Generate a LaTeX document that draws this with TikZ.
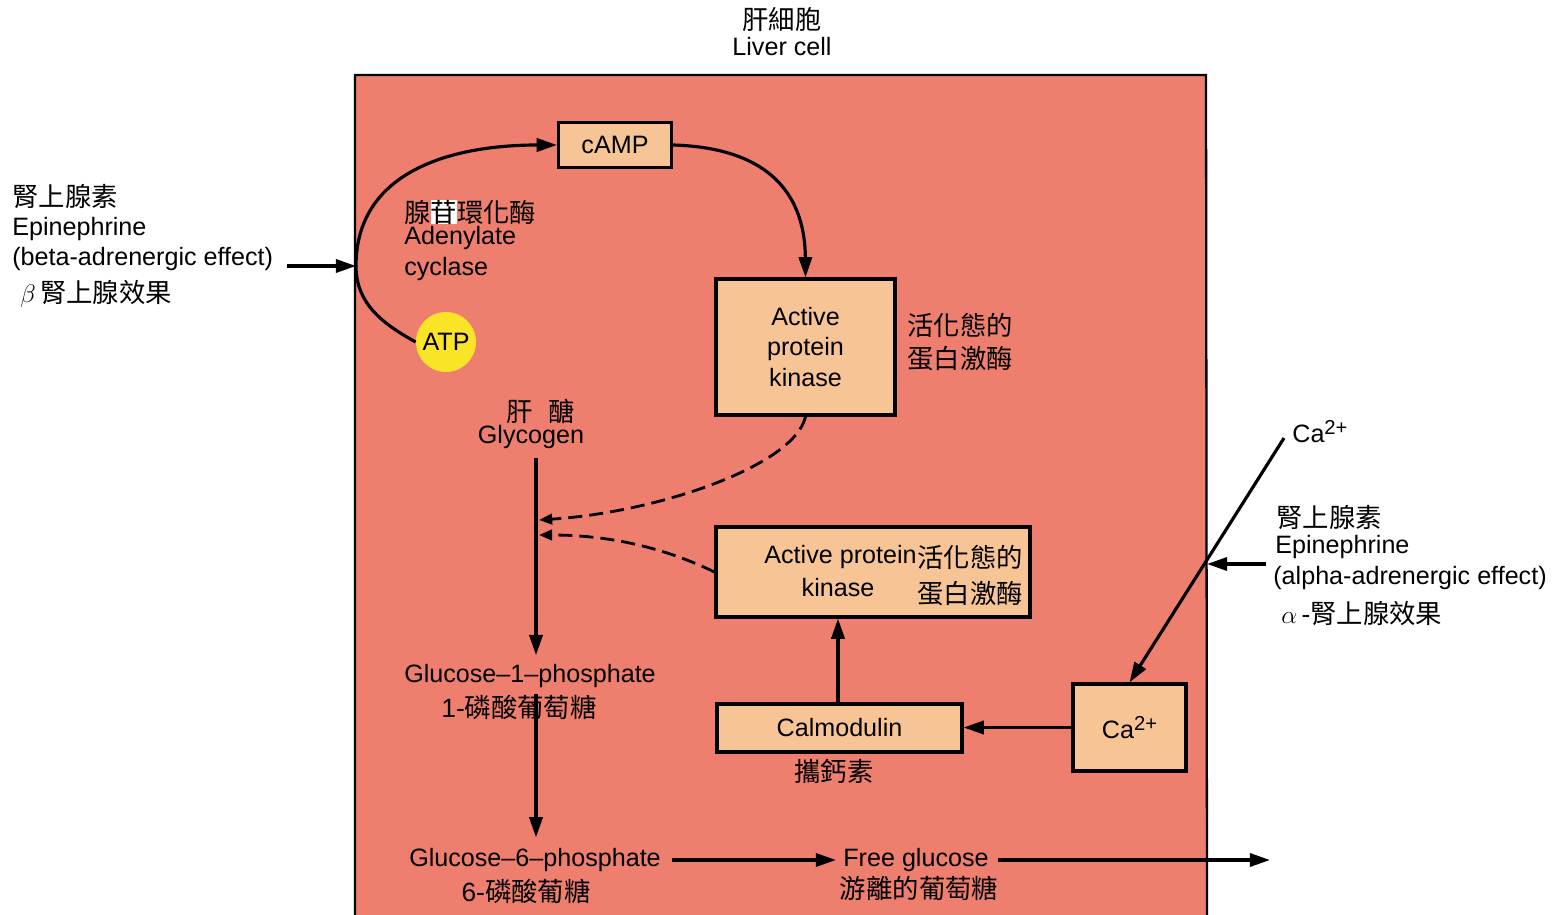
\documentclass[tikz,border=0pt]{standalone}
\usepackage{fontspec}
\setmainfont{Liberation Sans}
\newfontfamily\cjk{Noto Sans CJK TC}
\usetikzlibrary{arrows.meta}
\definecolor{cellc}{RGB}{238,127,111}
\definecolor{boxc}{RGB}{247,196,150}
\definecolor{atpc}{RGB}{250,228,40}
\newcommand\sups[1]{\raisebox{0.6ex}{\fontsize{11.5}{12}\selectfont #1}}
\begin{document}
\begin{tikzpicture}[x=0.2mm,y=-0.2mm,
  lat/.style={font=\fontsize{14.3}{17}\selectfont, inner sep=0pt},
  zh/.style={font=\fontsize{15}{18}\selectfont\cjk, inner sep=0pt},
  box/.style={draw, line width=1.8pt, fill=boxc, inner sep=0pt, font=\fontsize{14.3}{17.4}\selectfont},
  arr/.style={line width=1.8pt, -{Triangle[length=11.5pt,width=7.5pt]}},
  dsh/.style={line width=1.6pt, dash pattern=on 8pt off 4pt, -{Triangle[length=7.5pt,width=6pt]}}
]
\useasboundingbox (0,0) rectangle (1564,915);
\fill[white] (0,0) rectangle (1564,915);
\fill[cellc] (355,75) rectangle (1207,915);
\draw[line width=1.3pt] (355,915) -- (355,75) -- (1206,75) -- (1207,915);

% title
\node[zh] (t1) at (782,20) {肝細胞};
\node[lat] (t2) at (782,47) {Liver cell};

% left labels
\node[zh, anchor=west] (l1) at (12,197) {腎上腺素};
\node[lat, anchor=west] (l2) at (12,229) {Epinephrine};
\node[lat, anchor=west] (l3) at (12,259) {(beta-adrenergic effect)};
\node[zh, anchor=west] (l4) at (20,294) {$\beta$\,腎上腺效果};

% right labels
\node[lat, anchor=west] (calbl) at (1292,432) {Ca\sups{2+}};
\node[zh, anchor=west] (r1) at (1276,518) {腎上腺素};
\node[lat, anchor=west] (r2) at (1275,547) {Epinephrine};
\node[lat, anchor=west] (r3) at (1273,578) {(alpha-adrenergic effect)};
\node[zh, anchor=west] (r4) at (1281,614) {$\alpha$\,{\rmfamily -}腎上腺效果};

% upper cycle
\node[box, minimum width=22.6mm, minimum height=9mm] (camp) at (615,145) {cAMP};
\node[circle, fill=atpc, minimum size=12mm, inner sep=0pt, font=\fontsize{14.3}{17}\selectfont] (atp) at (446,342) {ATP};
\node[zh, anchor=west] (ac1) at (404,212) {腺{\fboxsep=0pt\colorbox{white}{苷}}環化酶};
\node[lat, anchor=west] (ac2) at (404,238) {Adenylate};
\node[lat, anchor=west] (ac3) at (404,269) {cyclase};
\node[box, minimum width=35.8mm, minimum height=27.2mm, align=center] (k1) at (805.5,347) {Active\\protein\\kinase};
\node[zh, anchor=west, align=left, font=\fontsize{15}{18.8}\selectfont\cjk] (k1zh) at (907,342) {活化態的\\蛋白激酶};

% glycogen chain
\node[zh] (glyzh) at (541,411) {肝\hspace{0.6em}醣};
\node[lat] (gly) at (531,437) {Glycogen};
\node[lat] (g1p) at (530,676) {Glucose–1–phosphate};
\node[zh] (g1pzh) at (519,707) {{\rmfamily 1-}磷酸葡萄糖};
\node[lat] (g6p) at (535,860) {Glucose–6–phosphate};
\node[zh] (g6pzh) at (526,891) {{\rmfamily 6-}磷酸葡糖};
\node[lat] (fg) at (916,860) {Free glucose};
\node[zh] (fgzh) at (919,888) {游離的葡萄糖};

% lower pathway
\node[box, minimum width=62.8mm, minimum height=18mm] (k2) at (873,572) {};
\node[lat, anchor=east] (k2a) at (917,557) {Active protein};
\node[zh, anchor=west] (k2b) at (917,557) {活化態的};
\node[lat] (k2c) at (838,588) {kinase};
\node[zh, anchor=west] (k2d) at (917,594) {蛋白激酶};
\node[box, minimum width=49mm, minimum height=9.6mm] (calm) at (839.5,728) {Calmodulin};
\node[zh] (calmzh) at (834,771) {攜鈣素};
\node[box, minimum width=22.6mm, minimum height=17.4mm] (ca) at (1129.5,727.5) {Ca\sups{2+}};

% coordinates
\coordinate (vx) at (536,0);
\coordinate (ux) at (838,0);
\coordinate (ac) at (356,266);
\coordinate (bstart) at (287,266);
\coordinate (d1) at (539,520);
\coordinate (d2) at (539,535);
\coordinate (out) at (1270,858);
\coordinate (cs) at (1284,438);
\coordinate (as) at (1266,564);
\coordinate (ae) at (1207,564);

% connectors
\draw[arr] (bstart) -- (ac);
\draw[arr] (atp.west) .. controls (385,325) and (356,305) .. (ac) .. controls (356,172) and (450,145) .. (camp.west);
\draw[arr] (camp.east) .. controls (775,148) and (805,200) .. (k1.north);
\draw[dsh] (k1.south) .. controls (795,465) and (660,512) .. (d1);
\draw[dsh] (k2.west) .. controls (665,548) and (610,535) .. (d2);
\draw[arr, shorten <=5pt, shorten >=5pt] (gly.south -| vx) -- (g1p.north -| vx);
\draw[arr, shorten >=6pt] (g1pzh.north -| vx) -- (g6p.north -| vx);
\draw[arr, shorten <=6pt, shorten >=4pt] (g6p.east) -- (fg.west);
\draw[arr, shorten <=5pt] (fg.east) -- (fg.east -| out);
\draw[arr] (calm.north -| ux) -- (k2.south -| ux);
\draw[arr] (ca.west) -- (ca.west -| calm.east);
\draw[arr] (cs) -- (ca.north);
\draw[arr] (as) -- (ae);
\end{tikzpicture}
\end{document}
